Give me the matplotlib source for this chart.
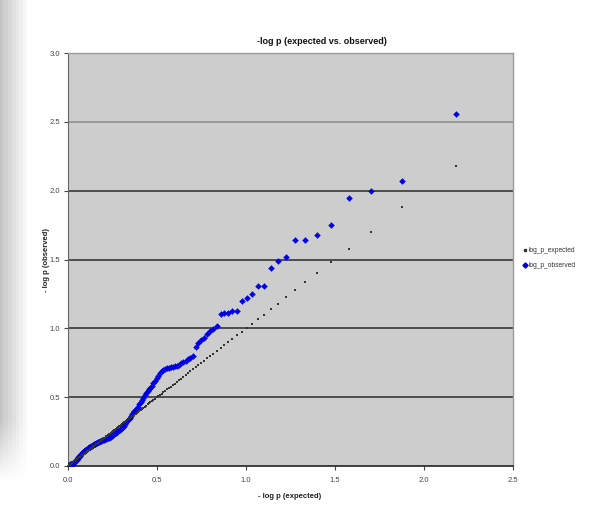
import numpy as np
import matplotlib
matplotlib.use("Agg")
import matplotlib.pyplot as plt
from matplotlib.lines import Line2D

plt.rcParams['font.family'] = ['Liberation Sans Narrow', 'Liberation Sans', 'DejaVu Sans']

title = "-log p (expected vs. observed)"
xlabel = "- log p (expected)"
ylabel = "- log p (observed)"
series_names = ["log_p_expected", "log_p_observed"]
x_ticks = [0.0, 0.5, 1.0, 1.5, 2.0, 2.5]
y_ticks = [0.0, 0.5, 1.0, 1.5, 2.0, 2.5, 3.0]

log_p_expected = [
    2.179, 1.878, 1.702, 1.577, 1.480, 1.401, 1.334, 1.276, 1.225, 1.179,
    1.138, 1.100, 1.065, 1.033, 1.003, 0.975, 0.949, 0.924, 0.900, 0.878,
    0.857, 0.837, 0.817, 0.799, 0.781, 0.764, 0.748, 0.732, 0.717, 0.702,
    0.688, 0.674, 0.661, 0.648, 0.635, 0.623, 0.611, 0.599, 0.588, 0.577,
    0.566, 0.556, 0.546, 0.536, 0.526, 0.516, 0.507, 0.498, 0.489, 0.480,
    0.471, 0.463, 0.455, 0.447, 0.439, 0.431, 0.423, 0.416, 0.408, 0.401,
    0.394, 0.387, 0.380, 0.373, 0.366, 0.360, 0.353, 0.347, 0.340, 0.334,
    0.328, 0.322, 0.316, 0.310, 0.304, 0.298, 0.293, 0.287, 0.281, 0.276,
    0.271, 0.265, 0.260, 0.255, 0.250, 0.245, 0.240, 0.235, 0.230, 0.225,
    0.220, 0.215, 0.211, 0.206, 0.201, 0.197, 0.192, 0.188, 0.183, 0.179,
    0.175, 0.170, 0.166, 0.162, 0.158, 0.154, 0.150, 0.146, 0.142, 0.138,
    0.134, 0.130, 0.126, 0.122, 0.118, 0.115, 0.111, 0.107, 0.104, 0.100,
    0.096, 0.093, 0.089, 0.086, 0.082, 0.079, 0.075, 0.072, 0.068, 0.065,
    0.062, 0.058, 0.055, 0.052, 0.049, 0.046, 0.042, 0.039, 0.036, 0.033,
    0.030, 0.027, 0.024, 0.021, 0.018, 0.015, 0.012, 0.009, 0.006, 0.003,
]

log_p_observed = [
    2.556, 2.070, 2.000, 1.950, 1.750, 1.680, 1.640, 1.640, 1.520, 1.490,
    1.440, 1.310, 1.310, 1.250, 1.220, 1.197, 1.128, 1.125, 1.115, 1.108,
    1.105, 1.017, 0.998, 0.978, 0.957, 0.933, 0.913, 0.890, 0.866, 0.800,
    0.787, 0.775, 0.765, 0.755, 0.745, 0.735, 0.729, 0.724, 0.720, 0.716,
    0.712, 0.709, 0.705, 0.700, 0.688, 0.673, 0.655, 0.636, 0.618, 0.600,
    0.584, 0.570, 0.557, 0.543, 0.530, 0.515, 0.497, 0.480, 0.462, 0.447,
    0.432, 0.420, 0.408, 0.398, 0.387, 0.376, 0.363, 0.352, 0.340, 0.328,
    0.317, 0.305, 0.293, 0.283, 0.277, 0.271, 0.265, 0.259, 0.253, 0.248,
    0.243, 0.238, 0.233, 0.228, 0.223, 0.218, 0.214, 0.210, 0.207, 0.205,
    0.202, 0.200, 0.197, 0.195, 0.192, 0.190, 0.187, 0.184, 0.181, 0.179,
    0.176, 0.173, 0.171, 0.168, 0.166, 0.163, 0.160, 0.157, 0.154, 0.151,
    0.148, 0.145, 0.141, 0.138, 0.135, 0.132, 0.129, 0.126, 0.123, 0.119,
    0.116, 0.112, 0.107, 0.103, 0.099, 0.095, 0.090, 0.086, 0.081, 0.076,
    0.069, 0.062, 0.055, 0.049, 0.044, 0.040, 0.036, 0.033, 0.029, 0.025,
    0.021, 0.019, 0.017, 0.016, 0.015, 0.014, 0.012, 0.010, 0.007, 0.005,
]

W, H = 590, 505
fig = plt.figure(figsize=(W / 100, H / 100), dpi=100)
fig.patch.set_facecolor('white')

# decorative gradient strip on the left edge
bg = fig.add_axes([0, 0, 1, 1], zorder=-10)
bg.set_axis_off()
cols = np.arange(W)
rows = np.arange(H)
shade = np.clip(1 - cols / 30.0, 0, 1)
shade = np.floor(shade * 8) / 8
fade = np.clip((480 - rows) / 60.0, 0, 1)
amt = fade[:, None] * shade[None, :]
val = 1 - 0.24 * amt
img = np.dstack([val, val, val])
bg.imshow(img, extent=[0, 1, 0, 1], aspect='auto', interpolation='nearest')
bg.set_xlim(0, 1)
bg.set_ylim(0, 1)

ax = fig.add_axes([68 / W, 1 - 466 / H, 445 / W, 413 / H])
ax.set_facecolor('#cdcdcd')
ax.set_xlim(0, 2.5)
ax.set_ylim(0, 3.0)

for yv in y_ticks[1:-1]:
    ax.axhline(yv, color='#8a8a8a' if yv == 2.5 else '#2a2a2a', lw=1.1, zorder=1)

ax.scatter(log_p_expected, log_p_observed, marker='D', s=9, color='#0000e6',
           edgecolors='#0000e6', linewidths=0.3, zorder=3, label=series_names[1])
ax.scatter(log_p_expected, log_p_expected, marker='s', s=1.8, color='#333333',
           linewidths=0, zorder=4, label=series_names[0])

ax.set_xticks(x_ticks)
ax.set_yticks(y_ticks)
ax.set_xticklabels([f"{v:.1f}" for v in x_ticks])
ax.set_yticklabels([f"{v:.1f}" for v in y_ticks])
ax.tick_params(axis='both', direction='out', length=3, width=0.8, labelsize=5.5,
               colors='#444444', labelcolor='#444444')
ax.tick_params(axis='y', pad=2.5)
ax.tick_params(axis='x', pad=5)

for side in ['top', 'right']:
    ax.spines[side].set_color('#9a9a9a')
    ax.spines[side].set_linewidth(1.0)
ax.spines['left'].set_color('#666666')
ax.spines['bottom'].set_color('#222222')
ax.spines['bottom'].set_linewidth(1.2)

fig.text(322 / W, 1 - 42 / H, title, ha='center', va='center',
         fontsize=6.5, fontweight='bold', color='#111111')
fig.text(290 / W, 1 - 496 / H, xlabel, ha='center', va='center',
         fontsize=5.5, fontweight='bold', color='#222222')
fig.text(46 / W, 1 - 260 / H, ylabel, ha='center', va='center', rotation=90,
         fontsize=5.5, fontweight='bold', color='#222222')

handles = [
    Line2D([], [], marker='s', ls='none', markersize=1.4, color='#333333'),
    Line2D([], [], marker='D', ls='none', markersize=2.6, color='#0000e6'),
]
fig.legend(handles, series_names, loc='center left',
           bbox_to_anchor=(523 / W, 1 - 258 / H), frameon=False, fontsize=4.8,
           handlelength=0.5, handletextpad=0.3, labelspacing=1.2,
           borderaxespad=0, borderpad=0, labelcolor='#333333')

fig.savefig('out.png', dpi=100)
